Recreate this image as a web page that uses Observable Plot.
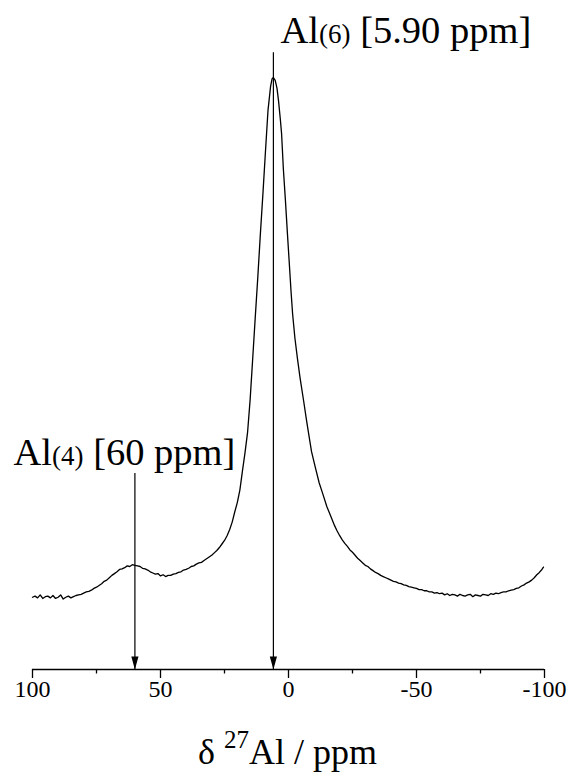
<!DOCTYPE html>
<html><head><meta charset="utf-8">
<script src="https://cdn.jsdelivr.net/npm/d3@7"></script>
<script src="https://cdn.jsdelivr.net/npm/@observablehq/plot@0.6"></script>
<style>body{margin:0;background:#fff} svg{display:block}</style>
</head><body><div id="chart"></div>
<script>
// 27Al NMR spectrum: chemical shift (ppm) and relative intensity (peak = 100)
const ppm = [
 100,99,98,97,96,95,94,93,92,91,90,89,88,87,86,85,84,83,82,81,80,79,78,77,76,75,74,73,72,71,
 70,69,68,67,66,65,64,63,62,61,60,59,58,57,56,55,54,53,52,51,50,49,48,47,46,45,44,43,42,41,
 40,39,38,37,36,35,34,33,32,31,30,29,28,27,26,25,24,23,22,21,20,19,18,17,16,15,14,13,12,11,
 10,9,8,7,6.4,5.9,5.2,4.5,3.9,3.2,2.7,2.0,1.2,0.4,-0.4,-1.0,-1.6,-2.5,-3.5,-4.5,-5.9,-7,-7.8,-9,
 -10.5,-12,-13.3,-15,-16.4,-18,-19,-20,-21,-22,-23,-24,-25,-26,-27,-28,-29,-30,-31,-32,-33,-34,
 -35,-36,-37,-38,-39,-40,-41,-42,-43,-44,-45,-46,-47,-48,-49,-50,-51,-52,-53,-54,-55,-56,-57,-58,
 -59,-60,-61,-62,-63,-64,-65,-66,-67,-68,-69,-70,-71,-72,-73,-74,-75,-76,-77,-78,-79,-80,-81,-82,
 -83,-84,-85,-86,-87,-88,-89,-90,-91,-92,-93,-94,-95,-96,-97,-98,-99,-99.6
];
const intensity = [
 12.2,12.4,12.1,12.6,12.0,12.3,12.4,12.1,12.5,12.0,12.2,12.6,11.9,12.2,12.4,12.1,12.3,12.5,12.6,12.7,12.9,13.1,13.2,13.4,13.7,13.9,14.2,14.5,14.9,15.1,
 15.5,15.9,16.2,16.5,16.9,17.0,17.2,17.5,17.4,17.7,17.6,17.5,17.4,17.1,17.0,16.8,16.5,16.3,16.1,16.2,15.8,16.0,15.7,15.9,15.9,16.1,16.2,16.4,16.5,16.8,
 16.9,17.1,17.4,17.5,17.8,18.0,18.1,18.4,18.7,19.0,19.3,19.7,20.1,20.6,21.2,21.8,22.6,23.6,24.9,26.6,28.2,30.3,33.5,36.6,40.0,45.5,52.4,59.4,66.2,73.5,
 80.3,87.5,94.5,98.5,99.8,100,99.5,98.2,96.1,93.0,90.5,84.5,79.2,73.5,68.0,63.8,60.1,56.0,52.5,49.3,45.4,42.2,40.0,36.8,
 34.1,31.5,29.8,27.5,26.0,24.3,23.4,22.6,21.9,21.3,20.8,20.2,19.8,19.3,18.8,18.4,18.0,17.6,17.4,17.0,16.7,16.4,
 16.2,15.9,15.7,15.5,15.3,15.1,14.9,14.8,14.6,14.5,14.3,14.2,14.0,13.9,13.8,13.7,13.5,13.5,13.3,13.3,13.1,13.1,12.9,13.0,
 12.8,12.9,12.6,12.8,12.5,12.7,12.6,12.4,12.7,12.5,12.4,12.6,12.7,12.3,12.6,12.5,12.4,12.7,12.6,12.5,12.8,12.7,12.9,12.8,
 13.0,13.1,13.1,13.3,13.4,13.5,13.7,13.8,14.1,14.3,14.6,14.8,15.1,15.5,16.0,16.4,16.9,17.3
];

const majorTicks = [100, 50, 0, -50, -100];
const majorTickLabels = ["100", "50", "0", "-50", "-100"];
const minorTicks = [75, 25, -25, -75];

// peak annotations
const peakPpm = [60, 5.9];
const arrowTop = [33.1, 104.2];
const labelMain = ["Al", "Al"];
const labelSub = ["(4)", "(6)"];
const labelRest = ["\u00a0[60 ppm]", "\u00a0[5.90 ppm]"];
const labelX = [107.4, 3.1];
const labelY = [34.5, 105.9];

// axis title
const titleMain = "δ\u00a0", titleSup = "27", titleRest = "Al / ppm";
const titleX = 0.4, titleY = -15.9;

const spectrum = ppm.map((p, i) => ({ppm: p, I: intensity[i]}));
const peaks = peakPpm.map((p, i) => ({ppm: p, top: arrowTop[i], lx: labelX[i], ly: labelY[i], main: labelMain[i], sub: labelSub[i], rest: labelRest[i]}));
const tickRows = majorTicks.map((v, i) => ({v, label: majorTickLabels[i]}));

const serif = "'Liberation Serif', 'Times New Roman', serif";

const arrowHead = {
  draw(context) {
    context.moveTo(0, 0);
    context.lineTo(-3.6, -13);
    context.lineTo(3.6, -13);
    context.closePath();
  }
};

const chart = Plot.plot({
  width: 570,
  height: 772,
  marginLeft: 32,
  marginRight: 26,
  marginTop: 77,
  marginBottom: 103,
  style: {fontFamily: serif, fontSize: "24px", background: "#fff", color: "#000"},
  x: {domain: [100, -100], axis: null},
  y: {domain: [0, 100], axis: null},
  marks: [
    Plot.ruleY([0], {stroke: "#000", strokeWidth: 1.3}),
    Plot.axisX({ticks: majorTicks, tickSize: 9, text: null, label: null, stroke: "#000", strokeWidth: 1.3}),
    Plot.axisX({ticks: minorTicks, tickSize: 4.5, text: null, label: null, stroke: "#000", strokeWidth: 1.3}),
    Plot.text(tickRows, {x: "v", y: d => 0, text: "label", dy: 27, lineAnchor: "bottom", textAnchor: "middle",
      fontSize: 24, fontFamily: serif, fill: "#000"}),
    Plot.line(spectrum, {x: "ppm", y: "I", stroke: "#000", strokeWidth: 1.3}),
    Plot.ruleX(peaks, {x: "ppm", y1: d => 0, y2: "top", stroke: "#000", strokeWidth: 1.2}),
    Plot.dot(peaks, {x: "ppm", y: d => 0, symbol: arrowHead, fill: "#000", stroke: "none"}),
    Plot.text(peaks, {x: "lx", y: "ly", text: d => d.main + d.sub + d.rest, textAnchor: "start",
      lineAnchor: "bottom", fontSize: 38.5, fontFamily: serif, fill: "#000"}),
    Plot.text([{x: titleX, y: titleY}], {x: "x", y: "y", text: d => titleMain + titleSup + titleRest, textAnchor: "middle",
      lineAnchor: "bottom", fontSize: 36, fontFamily: serif, fill: "#000"})
  ]
});

document.getElementById("chart").appendChild(chart);

const svg = d3.select(chart);

// mixed font sizes inside labels (real text kept, split into tspans)
peaks.forEach(p => {
  const full = p.main + p.sub + p.rest;
  svg.selectAll("text").filter(function() { return this.textContent === full; }).each(function() {
    const t = d3.select(this);
    t.text(null);
    t.append("tspan").text(p.main);
    t.append("tspan").attr("font-size", 27).style("font-size", "27px").text(p.sub);
    t.append("tspan").text(p.rest);
  });
});
svg.selectAll("text").filter(function() { return this.textContent === titleMain + titleSup + titleRest; }).each(function() {
  const t = d3.select(this);
  t.text(null);
  t.append("tspan").text(titleMain);
  t.append("tspan").attr("font-size", 25).style("font-size", "25px").attr("dy", -16).text(titleSup);
  t.append("tspan").attr("dy", 16).text(titleRest);
});
</script>
</body></html>
